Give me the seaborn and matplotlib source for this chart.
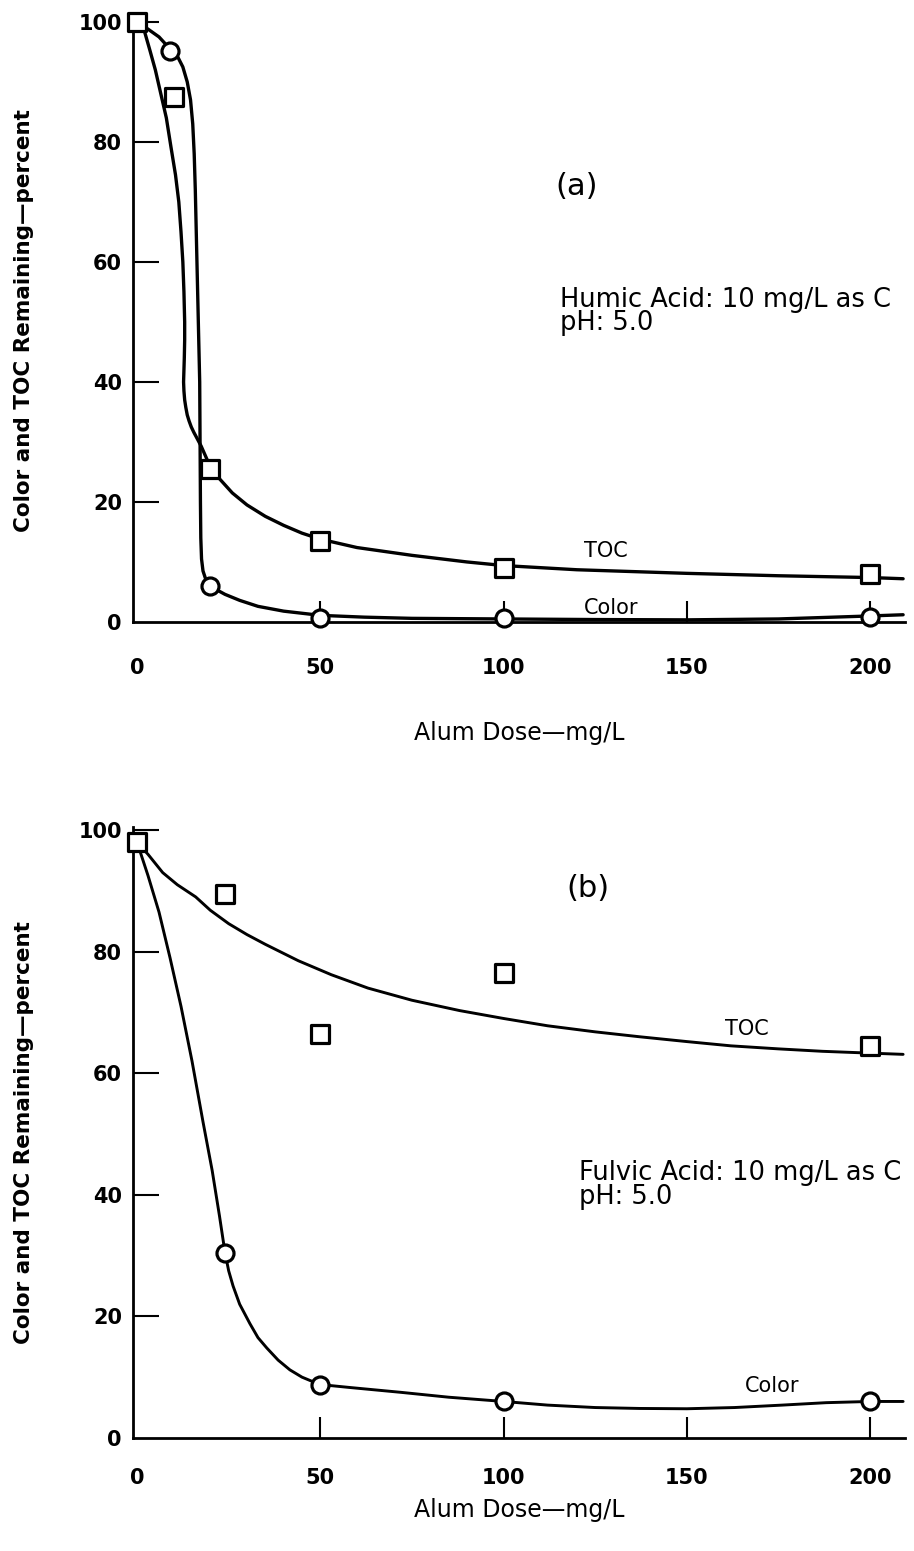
import numpy as np
import matplotlib
matplotlib.use('Agg')
import matplotlib.pyplot as plt
import seaborn as sns

# ---- panel (a): humic acid ----
a_toc_x = [0, 10, 20, 50, 100, 200]
a_toc_y = [100, 87.5, 25.5, 13.5, 9.0, 8.0]
a_col_x = [0, 9, 20, 50, 100, 200]
a_col_y = [100, 95.2, 6.0, 0.7, 0.7, 0.8]

# hand-drawn curves
a_toc_curve_x = [0, 2, 3.5, 5, 6.5, 8, 9.3, 10.5, 11.4, 12.0, 12.5, 12.8, 13.0, 13.0, 12.9, 12.7,
                 12.8, 13.0, 13.3, 13.7, 14.2, 14.8, 15.5, 16.2, 17.5, 19.3, 22, 26, 30, 35, 40,
                 45, 50, 60, 75, 90, 100, 120, 150, 175, 200, 209]
a_toc_curve_y = [100, 98.5, 95.3, 92, 88, 84, 79, 74.5, 70, 65, 60, 55, 50, 47, 44, 40,
                 38.5, 37, 35.8, 34.5, 33.5, 32.5, 31.6, 30.8, 29.3, 26.8, 24.2, 21.5, 19.5, 17.6, 16.1,
                 14.8, 13.8, 12.4, 11.1, 10.0, 9.4, 8.7, 8.1, 7.7, 7.4, 7.2]
a_col_curve_x = [0, 3, 6, 9, 11, 12.5, 13.7, 14.6, 15.2, 15.6, 15.9, 16.2, 16.5, 16.8, 17.1, 17.2,
                 17.3, 17.4, 17.6, 18.0, 18.7, 19.6, 21, 24, 28, 33, 40, 50, 62, 75, 100, 125,
                 150, 175, 200, 209]
a_col_curve_y = [100, 98.8, 97.5, 95.5, 94.3, 92.5, 90, 87, 83, 78, 72, 64, 56, 48, 40, 30,
                 20, 14, 10.5, 8.5, 7.2, 6.3, 5.6, 4.6, 3.6, 2.6, 1.8, 1.1, 0.8, 0.6, 0.5, 0.4,
                 0.35, 0.5, 1.0, 1.2]

# ---- panel (b): fulvic acid ----
b_toc_x = [0, 24, 50, 100, 200]
b_toc_y = [98, 89.5, 66.5, 76.5, 64.5]
b_col_x = [0, 24, 50, 100, 200]
b_col_y = [98, 30.5, 8.7, 6.0, 6.0]

b_toc_curve_x = [0, 3, 7, 11, 16, 20, 25, 30, 35, 44, 53, 63, 75, 88, 100, 112, 125, 137, 150,
                 162, 175, 187, 200, 209]
b_toc_curve_y = [98, 96, 93, 91, 89, 86.8, 84.6, 82.8, 81.2, 78.5, 76.2, 74, 72, 70.3, 69, 67.8,
                 66.8, 66, 65.2, 64.5, 64, 63.6, 63.3, 63.1]
b_col_curve_x = [0, 3, 6, 9, 12, 15, 18, 20.5, 22.5, 24, 25, 26.2, 28, 30.8, 33, 35.4, 38.5, 41.7,
                 45, 49, 53, 58, 65, 72, 85, 100, 112, 125, 137, 150, 163, 176, 188, 200, 209]
b_col_curve_y = [98, 92.5, 86.5, 79, 71, 62, 52, 44, 36.5, 30.5, 27.5, 25, 22, 18.8, 16.5, 14.8,
                 12.8, 11.2, 10, 9.0, 8.6, 8.3, 7.9, 7.5, 6.7, 6.0, 5.4, 5.0, 4.85, 4.8, 5.0, 5.4,
                 5.8, 6.0, 6.0]

x_ticks = [0, 50, 100, 150, 200]
y_ticks = [0, 20, 40, 60, 80, 100]

sns.set_style('white')
plt.rcParams['font.family'] = ['DejaVu Sans']
plt.rcParams['text.color'] = 'black'
plt.rcParams['axes.labelcolor'] = 'black'
plt.rcParams['xtick.color'] = 'black'
plt.rcParams['ytick.color'] = 'black'

fig = plt.figure(figsize=(9.14, 15.51), dpi=100)
ax_a = fig.add_axes([0.1455, 0.5990, 0.8446, 0.3888])
ax_b = fig.add_axes([0.1455, 0.0729, 0.8446, 0.3939])


def draw_panel(ax, toc_cx, toc_cy, col_cx, col_cy, toc_x, toc_y, col_x, col_y, lw, xpad, lpad):
    sns.lineplot(x=toc_cx, y=toc_cy, sort=False, estimator=None, color='black', lw=lw,
                 solid_joinstyle='round', ax=ax)
    sns.lineplot(x=col_cx, y=col_cy, sort=False, estimator=None, color='black', lw=lw,
                 solid_joinstyle='round', ax=ax)
    sns.scatterplot(x=col_x, y=col_y, marker='o', s=150, facecolor='white', edgecolor='black',
                    linewidth=2.3, ax=ax, zorder=5, clip_on=False)
    sns.scatterplot(x=toc_x, y=toc_y, marker='s', s=170, facecolor='white', edgecolor='black',
                    linewidth=2.3, ax=ax, zorder=6, clip_on=False)
    ax.set_xlim(-1.1, 209.5)
    ax.set_ylim(0, 100.5)
    ax.set_xticks(x_ticks)
    ax.set_yticks(y_ticks)
    for s in ['top', 'right']:
        ax.spines[s].set_visible(False)
    for s in ['left', 'bottom']:
        ax.spines[s].set_linewidth(2.0)
        ax.spines[s].set_color('black')
    ax.tick_params(axis='x', bottom=True, direction='in', length=15, width=1.5, pad=xpad,
                   labelsize=15)
    ax.tick_params(axis='y', left=True, direction='in', length=19, width=1.5, pad=8,
                   labelsize=15)
    # the 0 dose tick sits on the y axis and is not drawn in the original
    ax.xaxis.get_major_ticks()[0].tick1line.set_visible(False)
    ax.yaxis.get_major_ticks()[0].tick1line.set_visible(False)
    for lab in ax.get_xticklabels() + ax.get_yticklabels():
        lab.set_fontweight('bold')
    ax.set_xlabel('Alum Dose\u2014mg/L', fontsize=17, labelpad=lpad)
    ax.set_ylabel('Color and TOC Remaining\u2014percent', fontsize=15.5, fontweight='bold')
    ax.yaxis.set_label_coords(-0.128, 0.5)
    ax.set_facecolor('white')


draw_panel(ax_a, a_toc_curve_x, a_toc_curve_y, a_col_curve_x, a_col_curve_y,
           a_toc_x, a_toc_y, a_col_x, a_col_y, 2.4, 26, 31)
draw_panel(ax_b, b_toc_curve_x, b_toc_curve_y, b_col_curve_x, b_col_curve_y,
           b_toc_x, b_toc_y, b_col_x, b_col_y, 2.1, 22, 7)

ax_a.text(120, 72.5, '(a)', fontsize=22, ha='center', va='center')
ax_a.text(115.5, 53.7, 'Humic Acid: 10 mg/L as C', fontsize=18.5, ha='left', va='center')
ax_a.text(115.5, 49.8, 'pH: 5.0', fontsize=18.5, ha='left', va='center')
ax_a.text(127.8, 11.8, 'TOC', fontsize=15, ha='center', va='center')
ax_a.text(129.4, 2.4, 'Color', fontsize=15, ha='center', va='center')

ax_b.text(123, 90.3, '(b)', fontsize=22, ha='center', va='center')
ax_b.text(120.7, 43.6, 'Fulvic Acid: 10 mg/L as C', fontsize=18.5, ha='left', va='center')
ax_b.text(120.7, 39.7, 'pH: 5.0', fontsize=18.5, ha='left', va='center')
ax_b.text(166.5, 67.2, 'TOC', fontsize=15, ha='center', va='center')
ax_b.text(173.3, 8.6, 'Color', fontsize=15, ha='center', va='center')

fig.savefig('out.png', dpi=100, facecolor='white')
